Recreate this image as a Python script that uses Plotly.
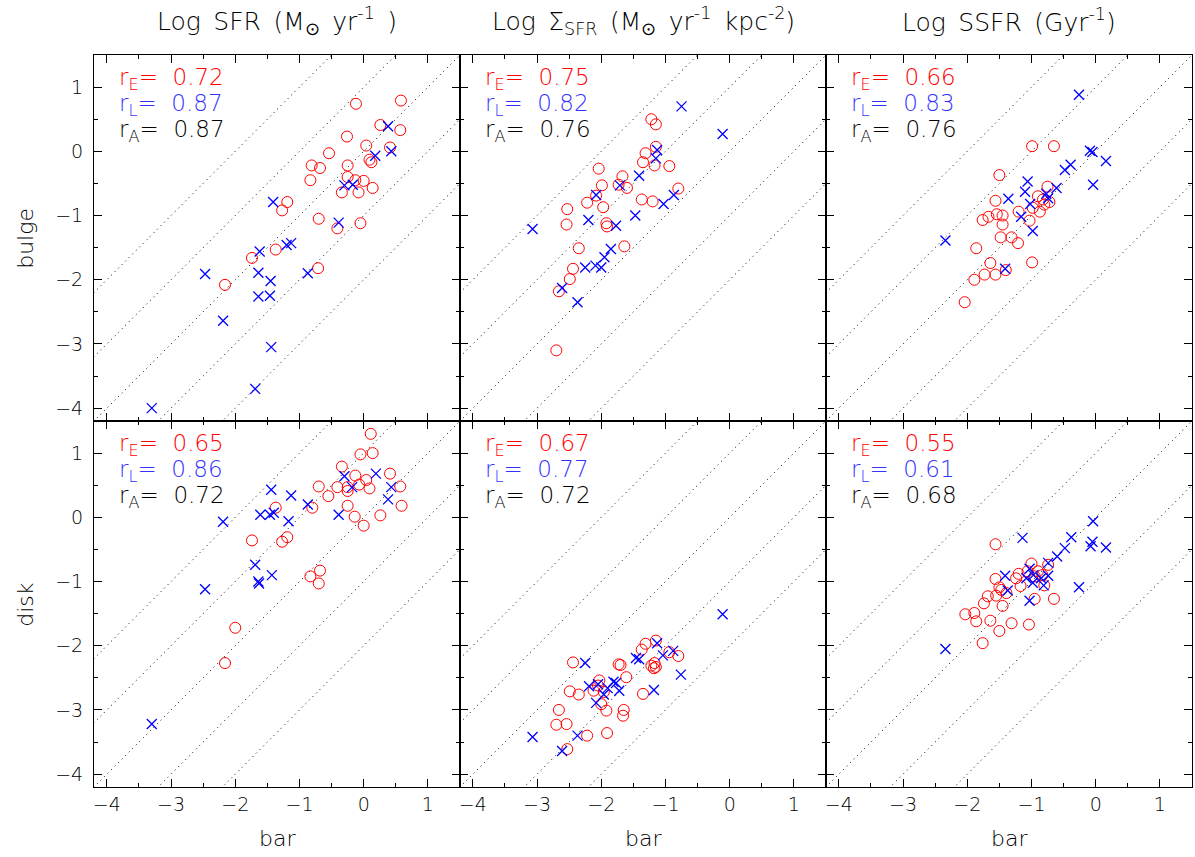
import plotly.graph_objects as go
from plotly.subplots import make_subplots

# ---------------- data ----------------
SP = "\u2002"
col_titles = [f"Log{SP}SFR{SP}(M<sub>⊙</sub>{SP}yr<sup>-1</sup>{SP})",
              f"Log{SP}Σ<sub>SFR</sub>{SP}(M<sub>⊙</sub>{SP}yr<sup>-1</sup>{SP}kpc<sup>-2</sup>)",
              f"Log{SP}SSFR{SP}(Gyr<sup>-1</sup>)"]
row_labels = ["bulge", "disk"]
x_label = "bar"
tick_vals = [-4, -3, -2, -1, 0, 1]
diag_offsets = [2, 1, 0, -1, -2]

rE = ["0.72", "0.75", "0.66", "0.65", "0.67", "0.55"]
rL = ["0.87", "0.82", "0.83", "0.86", "0.77", "0.61"]
rA = ["0.87", "0.76", "0.76", "0.72", "0.72", "0.68"]

# Panel 1: bulge, Log SFR
p1_circ_x = [-0.12, 0.58, 0.26, 0.57, -0.26, 0.04, 0.41, -0.54, 0.09, 0.12, -0.81, -0.68, -0.25, -0.83,
             -0.25, -0.13, 0.00, 0.14, -0.34, -0.08, -1.19, -1.27, -0.70, -0.41, -0.05, -1.37, -1.74, -0.71, -2.16]
p1_circ_y = [0.74, 0.79, 0.41, 0.33, 0.23, 0.09, 0.06, -0.03, -0.13, -0.17, -0.22, -0.26, -0.22, -0.45,
             -0.40, -0.45, -0.46, -0.57, -0.64, -0.64, -0.79, -0.92, -1.05, -1.20, -1.12, -1.53, -1.66, -1.82, -2.08]
p1_x_x = [0.38, 0.18, 0.43, -0.30, -0.17, -1.41, -0.39, -1.20, -1.13, -1.62, -2.47, -1.64, -1.45, -0.87,
          -1.64, -1.46, -2.19, -1.44, -1.69, -3.30]
p1_x_y = [0.39, -0.07, 0.00, -0.53, -0.52, -0.79, -1.11, -1.46, -1.43, -1.56, -1.91, -1.89, -2.02, -1.90,
          -2.26, -2.25, -2.64, -3.05, -3.70, -4.00]

# Panel 2: bulge, Log Sigma_SFR
p2_circ_x = [-1.22, -1.15, -1.15, -1.31, -1.35, -1.17, -0.94, -2.04, -1.67, -1.73, -1.60, -1.99, -2.08, -2.22,
             -1.97, -2.53, -2.54, -1.92, -1.91, -1.37, -1.20, -0.80, -2.35, -1.64, -2.44, -2.49, -2.66, -2.70]
p2_circ_y = [0.50, 0.42, 0.07, -0.03, -0.17, -0.22, -0.23, -0.27, -0.39, -0.52, -0.57, -0.53, -0.69, -0.80,
             -0.87, -0.90, -1.14, -1.12, -1.17, -0.75, -0.78, -0.58, -1.51, -1.48, -1.83, -1.99, -2.18, -3.10]
p2_x_x = [-0.75, -0.11, -1.13, -1.15, -1.41, -1.71, -2.08, -2.20, -1.77, -1.47, -1.03, -0.87, -1.85, -1.95,
          -2.25, -2.09, -2.00, -2.61, -2.37, -3.07]
p2_x_y = [0.70, 0.27, 0.02, -0.11, -0.38, -0.53, -0.68, -1.07, -1.16, -1.00, -0.82, -0.68, -1.52, -1.65,
          -1.81, -1.78, -1.81, -2.13, -2.35, -1.21]

# Panel 3: bulge, Log SSFR
p3_circ_x = [-0.99, -0.65, -1.50, -1.56, -0.75, -0.90, -0.82, -0.72, -0.98, -0.87, -0.80, -1.20, -1.03, -1.76,
             -1.67, -1.54, -1.45, -1.45, -1.48, -1.31, -1.21, -1.86, -1.64, -0.99, -1.40, -1.89, -1.73, -1.56, -2.04]
p3_circ_y = [0.08, 0.08, -0.37, -0.77, -0.55, -0.70, -0.75, -0.79, -0.88, -0.94, -0.83, -0.94, -1.08, -1.07,
             -1.02, -0.98, -1.00, -1.14, -1.34, -1.34, -1.43, -1.51, -1.74, -1.73, -1.85, -2.00, -1.92, -1.92, -2.35]
p3_x_x = [-0.26, -0.05, -0.09, 0.16, -0.48, -0.39, -0.04, -1.06, -1.10, -1.36, -0.61, -0.77, -0.74, -1.02,
          -1.16, -0.98, -1.41, -2.34]
p3_x_y = [0.88, -0.01, 0.01, -0.15, -0.29, -0.21, -0.52, -0.47, -0.63, -0.74, -0.57, -0.66, -0.73, -0.82,
          -1.02, -1.24, -1.83, -1.39]

# Panel 4: disk, Log SFR
p4_circ_x = [0.11, 0.14, -0.05, -0.34, 0.41, -0.13, 0.04, -0.70, -0.41, -0.25, -0.25, -0.07, 0.09, 0.57, -0.55,
             -1.37, -0.80, -0.25, 0.59, -0.14, 0.26, 0.00, -1.74, -1.19, -1.27, -0.83, -0.68, -0.70, -2.00, -2.16]
p4_circ_y = [1.30, 1.00, 0.98, 0.79, 0.68, 0.65, 0.58, 0.48, 0.47, 0.47, 0.41, 0.51, 0.45, 0.48, 0.33,
             0.15, 0.15, 0.18, 0.18, 0.01, 0.03, -0.13, -0.36, -0.31, -0.38, -0.92, -0.83, -1.03, -1.72, -2.27]
p4_x_x = [0.19, -0.30, -0.18, 0.43, 0.38, -1.44, -1.13, -0.87, -1.61, -1.46, -1.40, -1.17, -0.39, -2.19,
          -1.69, -1.43, -1.64, -1.63, -2.47, -3.30]
p4_x_y = [0.68, 0.64, 0.47, 0.47, 0.28, 0.43, 0.34, 0.20, 0.04, 0.04, 0.07, -0.06, 0.04, -0.07,
          -0.74, -0.90, -1.00, -1.03, -1.12, -3.22]

# Panel 5: disk, Log Sigma_SFR
p5_circ_x = [-1.15, -1.31, -1.37, -0.94, -0.80, -1.73, -1.70, -1.22, -1.17, -1.15, -1.18, -2.44, -1.61, -2.03,
             -2.05, -2.12, -1.96, -2.49, -2.35, -1.35, -2.00, -1.92, -1.65, -1.66, -2.66, -2.70, -2.54, -2.22,
             -1.91, -2.53]
p5_circ_y = [-1.92, -1.97, -2.06, -2.10, -2.16, -2.29, -2.30, -2.31, -2.27, -2.33, -2.35, -2.26, -2.49, -2.54,
             -2.62, -2.70, -2.72, -2.71, -2.76, -2.75, -2.91, -3.01, -3.00, -3.09, -3.00, -3.23, -3.22, -3.40,
             -3.36, -3.61]
p5_x_x = [-0.11, -1.13, -0.88, -1.04, -1.46, -1.41, -0.76, -1.18, -2.25, -2.19, -2.05, -1.90, -1.81, -1.77,
          -1.72, -1.96, -2.08, -3.07, -2.37, -2.61]
p5_x_y = [-1.51, -1.96, -2.08, -2.15, -2.19, -2.21, -2.45, -2.69, -2.27, -2.63, -2.60, -2.66, -2.56, -2.58,
          -2.70, -2.76, -2.89, -3.42, -3.40, -3.64]

# Panel 6: disk, Log SSFR
p6_circ_x = [-1.56, -1.00, -0.74, -1.20, -1.06, -0.90, -0.83, -0.95, -1.24, -1.56, -1.17, -0.80, -1.50, -1.47,
             -1.39, -1.55, -1.68, -0.95, -0.65, -1.74, -1.45, -2.03, -1.89, -1.86, -1.64, -1.31, -1.04, -1.50, -1.76]
p6_circ_y = [-0.42, -0.72, -0.74, -0.88, -0.84, -0.84, -0.90, -0.92, -0.95, -0.96, -1.07, -1.06, -1.09, -1.13,
             -1.18, -1.22, -1.23, -1.27, -1.27, -1.34, -1.38, -1.51, -1.49, -1.62, -1.61, -1.65, -1.67, -1.77, -1.96]
p6_x_x = [-0.04, -1.14, -0.38, -0.05, -0.08, 0.16, -0.48, -0.60, -0.74, -1.03, -1.08, -0.97, -0.85, -0.74,
          -0.98, -0.81, -1.41, -1.37, -1.03, -0.26, -2.34]
p6_x_y = [-0.06, -0.32, -0.31, -0.38, -0.45, -0.47, -0.48, -0.61, -0.71, -0.80, -0.95, -0.90, -0.95, -0.91,
          -1.02, -1.06, -0.91, -1.14, -1.30, -1.09, -2.05]

circ_x = [p1_circ_x, p2_circ_x, p3_circ_x, p4_circ_x, p5_circ_x, p6_circ_x]
circ_y = [p1_circ_y, p2_circ_y, p3_circ_y, p4_circ_y, p5_circ_y, p6_circ_y]
cross_x = [p1_x_x, p2_x_x, p3_x_x, p4_x_x, p5_x_x, p6_x_x]
cross_y = [p1_x_y, p2_x_y, p3_x_y, p4_x_y, p5_x_y, p6_x_y]

# ---------------- figure ----------------
FONT = "DejaVu Sans"
W = 200
RED = "#ff0000"
BLUE = "#0000ff"
AX_RANGE = [-4.2, 1.5]

fig = make_subplots(rows=2, cols=3, horizontal_spacing=0, vertical_spacing=0)

for i in range(6):
    r, c = i // 3 + 1, i % 3 + 1
    for off in diag_offsets:
        xs = [AX_RANGE[0] - 1, AX_RANGE[1] + 1]
        fig.add_trace(go.Scatter(x=xs, y=[v + off for v in xs], mode="lines",
                                 line=dict(color="black", width=1, dash="1px,4px"),
                                 showlegend=False, hoverinfo="skip"), row=r, col=c)
    fig.add_trace(go.Scatter(x=circ_x[i], y=circ_y[i], mode="markers",
                             marker=dict(symbol="circle-open", size=11, color=RED, line=dict(width=1, color=RED)),
                             showlegend=False), row=r, col=c)
    fig.add_trace(go.Scatter(x=cross_x[i], y=cross_y[i], mode="markers",
                             marker=dict(symbol="x-thin-open", size=10, color=BLUE, line=dict(width=1.3, color=BLUE)),
                             showlegend=False), row=r, col=c)

    sfx = "" if i == 0 else str(i + 1)
    base = dict(xref=f"x{sfx} domain", yref=f"y{sfx} domain", x=0.062, xanchor="left",
                yanchor="middle", showarrow=False)
    fig.add_annotation(text=f"r<sub>E</sub>=  {rE[i]}", y=0.934,
                       font=dict(family=FONT, size=23, weight=W, color=RED), **base)
    fig.add_annotation(text=f"r<sub>L</sub>=  {rL[i]}", y=0.863,
                       font=dict(family=FONT, size=23, weight=W, color="#3333ff"), **base)
    fig.add_annotation(text=f"r<sub>A</sub>=  {rA[i]}", y=0.792,
                       font=dict(family=FONT, size=23, weight=W, color="black"), **base)

axis_common = dict(range=AX_RANGE, showline=True, mirror="allticks", linecolor="black", linewidth=1,
                   ticks="inside", ticklen=8, tickcolor="black", tickwidth=1, tickvals=tick_vals,
                   showgrid=False, zeroline=False,
                   minor=dict(ticks="inside", ticklen=4, dtick=0.5, tick0=0, tickcolor="black", tickwidth=1,
                              showgrid=False),
                   tickfont=dict(family=FONT, size=19, weight=W, color="black"))
for i in range(6):
    r, c = i // 3 + 1, i % 3 + 1
    fig.update_xaxes(**axis_common, showticklabels=(r == 2), row=r, col=c)
    fig.update_yaxes(**axis_common, showticklabels=(c == 1), ticklabelstandoff=6, row=r, col=c)

for c in range(3):
    sfx = "" if c == 0 else str(c + 1)
    fig.add_annotation(text=col_titles[c], xref=f"x{sfx} domain", yref="paper", x=0.5, y=1.047,
                       xanchor="center", yanchor="middle", showarrow=False,
                       font=dict(family=FONT, size=25, weight=W, color="black"))
    sfx_b = str(c + 4)
    fig.add_annotation(text=x_label, xref=f"x{sfx_b} domain", yref="paper", x=0.5, y=-0.07,
                       xanchor="center", yanchor="middle", showarrow=False,
                       font=dict(family=FONT, size=22, weight=W, color="black"))

for rr in range(2):
    sfx = "" if rr == 0 else "4"
    fig.add_annotation(text=row_labels[rr], xref="paper", yref=f"y{sfx} domain", x=-0.063, y=0.5,
                       xanchor="center", yanchor="middle", textangle=-90, showarrow=False,
                       font=dict(family=FONT, size=22, weight=W, color="black"))

fig.update_layout(width=1195, height=857, margin=dict(l=94, r=3, t=55, b=70),
                  paper_bgcolor="white", plot_bgcolor="white")

fig.write_html("out.html", config={"displayModeBar": False},
               post_script="document.body.style.margin='0';document.body.style.overflow='hidden';")
